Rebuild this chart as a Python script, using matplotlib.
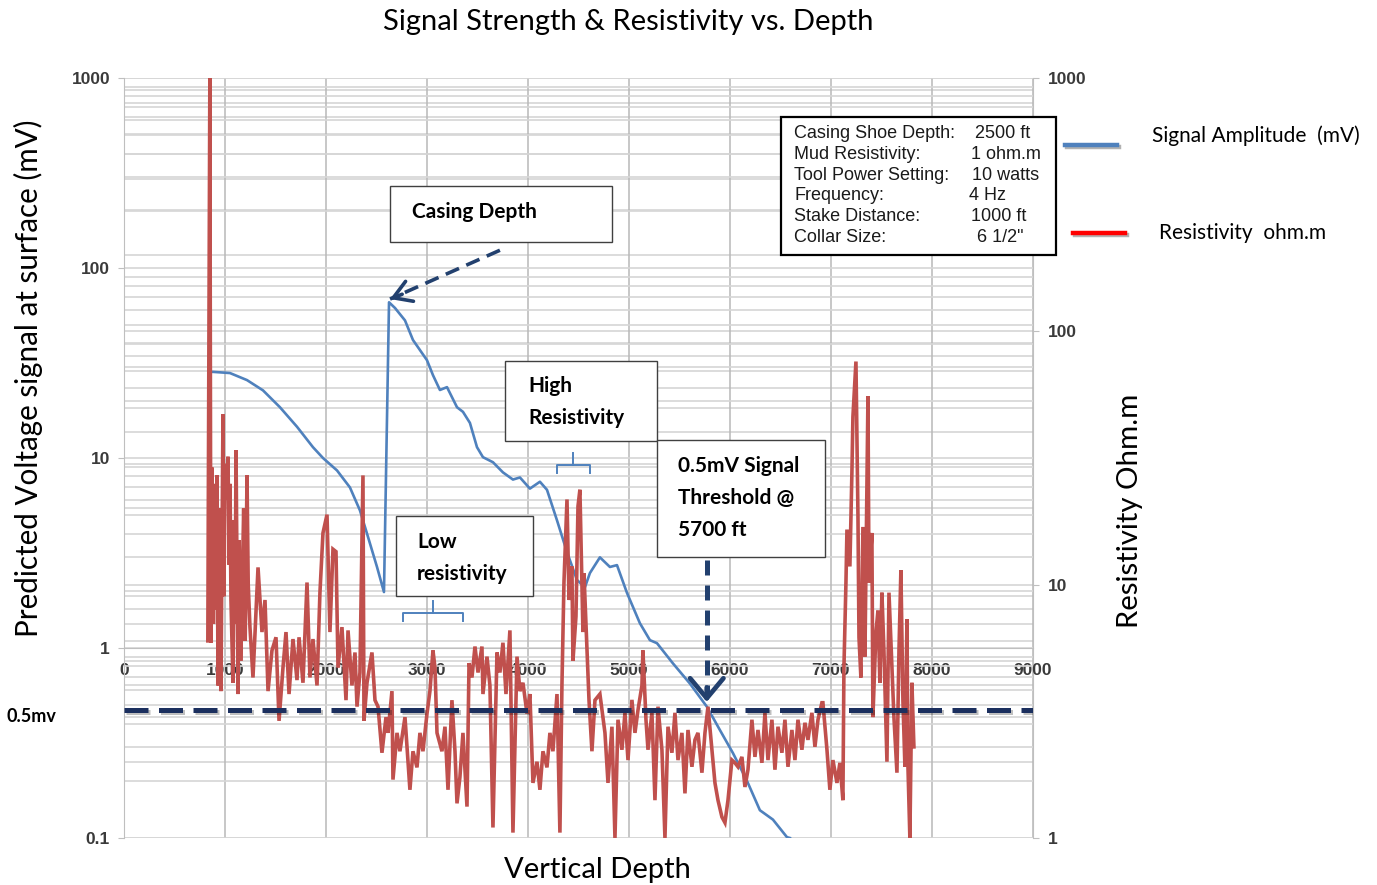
import matplotlib
matplotlib.use("Agg")
import matplotlib.pyplot as plt
import matplotlib.patheffects as pe
from matplotlib.patches import Rectangle
from matplotlib.lines import Line2D
from matplotlib.ticker import LogLocator, NullFormatter

# ---- data ----
sig_depth = [851, 881, 1049, 1218, 1376, 1544, 1713, 1871, 1970, 2109, 2237, 2336, 2406, 2505,
             2574, 2624, 2683, 2782, 2861, 2930, 3000, 3059, 3128, 3198, 3297, 3356, 3425,
             3495, 3554, 3653, 3752, 3851, 3920, 4019, 4118, 4188, 4287, 4386, 4485, 4564,
             4613, 4712, 4811, 4881, 4980, 5108, 5207, 5277, 5435, 5603, 5772, 5900, 6029,
             6168, 6296, 6425, 6564, 6593]
sig_mv = [28.4, 28.4, 28.0, 25.7, 22.7, 18.5, 14.6, 11.4, 10.0, 8.6, 7.0, 5.3, 4.0, 2.67,
          1.97, 66, 61.6, 53, 41.8, 37, 32.7, 27.3, 22.8, 23.6, 18.5, 17.5, 15.3,
          11.4, 10.1, 9.5, 8.4, 7.7, 7.9, 6.9, 7.5, 6.8, 4.7, 3.2, 2.28, 2.09,
          2.48, 3.0, 2.67, 2.73, 1.95, 1.35, 1.1, 1.06, 0.83, 0.65, 0.49, 0.37, 0.28,
          0.20, 0.14, 0.125, 0.101, 0.1]

res_depth = [830, 850, 860, 871, 885, 900, 910, 921, 931, 945, 960, 980, 990, 1000, 1010,
             1030, 1040, 1050, 1059, 1079, 1090, 1100, 1109, 1129, 1140, 1155, 1168, 1185,
             1200, 1218, 1230, 1247, 1277, 1327, 1366, 1396, 1426, 1465, 1505, 1535, 1574,
             1604, 1634, 1673, 1713, 1733, 1772, 1812, 1841, 1871, 1911, 1940, 1970, 2010,
             2039, 2069, 2099, 2119, 2158, 2198, 2218, 2257, 2287, 2307, 2336, 2366, 2376,
             2406, 2455, 2485, 2515, 2554, 2594, 2614, 2653, 2663, 2703, 2732, 2782,
             2831, 2861, 2901, 2930, 2960, 3000, 3029, 3059, 3079, 3099, 3148, 3178, 3208,
             3247, 3277, 3297, 3326, 3356, 3396, 3416, 3445, 3475, 3505, 3544, 3554, 3594,
             3623, 3653, 3693, 3722, 3752, 3782, 3821, 3851, 3891, 3920, 3950, 3990, 4019,
             4049, 4089, 4118, 4148, 4188, 4217, 4247, 4287, 4316, 4336, 4356, 4386, 4406,
             4435, 4445, 4475, 4495, 4514, 4544, 4554, 4584, 4604, 4633, 4663, 4712,
             4762, 4792, 4831, 4861, 4891, 4930, 4960, 4990, 5029, 5059, 5089, 5128, 5138,
             5168, 5188, 5227, 5257, 5287, 5326, 5356, 5386, 5425, 5455, 5485, 5524, 5554,
             5584, 5623, 5653, 5683, 5722, 5752, 5782, 5821, 5851, 5881, 5920, 5950, 5980,
             6019, 6049, 6079, 6118, 6148, 6178, 6217, 6247, 6277, 6316, 6346, 6376, 6415,
             6445, 6475, 6514, 6544, 6574, 6613, 6643, 6673, 6712, 6742, 6772, 6811, 6841,
             6871, 6910, 6920, 6960, 6989, 7019, 7059, 7088, 7118, 7128, 7148, 7158, 7187,
             7207, 7217, 7247, 7267, 7277, 7296, 7316, 7336, 7366, 7376, 7405, 7415, 7445,
             7465, 7484, 7504, 7524, 7554, 7574, 7603, 7623, 7653, 7673, 7692, 7712, 7732,
             7752, 7762, 7781, 7801, 7821]
res_ohm = [6.0, 1000, 5.9, 29, 7, 25, 8, 27, 4.0, 20, 3.8, 47, 9, 30, 21.7,
           32, 12, 25, 8.7, 4.1, 18, 7, 34, 3.7, 15, 5, 8.7, 20,
           6, 27, 10, 6.8, 4.3, 11.7, 6.5, 8.7, 3.8, 5.5, 6.2, 2.9, 4.7,
           6.5, 3.7, 6.1, 4.2, 6.2, 4.1, 10.2, 4.3, 6.1, 4.0, 9.3, 16, 18.9,
           6.5, 13.8, 13.5, 4.7, 6.8, 3.5, 6.6, 4.0, 5.4, 3.3, 4.5, 27, 2.9,
           4.1, 5.4, 3.5, 3.3, 2.17, 3.0, 2.6, 3.8, 1.7, 2.6, 2.2, 3.0,
           1.55, 2.2, 1.9, 2.6, 2.2, 3.1, 3.8, 5.5, 4.7, 2.6, 2.2, 2.75, 1.55,
           3.5, 2.2, 1.37, 1.74, 2.6, 1.33, 4.9, 4.3, 5.7, 4.5, 5.7, 3.7, 5.2,
           4.0, 1.1, 5.4, 4.5, 5.9, 3.7, 6.6, 1.05, 5.2, 3.8, 4.1, 3.1, 3.7,
           1.65, 2.0, 1.55, 2.2, 1.9, 2.6, 2.2, 3.7, 1.05, 4.0, 10.2, 21.7, 8.7,
           11.8, 5.0, 7.5, 20.4, 23.7, 6.5, 11.1, 5.5, 3.5, 2.2, 3.5, 3.7,
           2.6, 1.65, 2.75, 1.0, 2.93, 2.23, 3.12, 2.03, 3.51, 2.6, 3.2, 4.0, 5.5,
           2.93, 2.23, 3.12, 1.41, 3.3, 2.23, 1.0, 2.75, 2.17, 3.12, 2.03, 2.6, 1.5,
           2.67, 1.91, 2.44, 2.6, 1.81, 2.6, 3.3, 2.23, 1.65, 1.41, 1.21, 1.15, 1.41,
           2.03, 1.98, 1.91, 2.09, 1.59, 1.86, 2.93, 2.09, 2.67, 1.98, 3.12, 2.03, 2.93,
           1.86, 2.75, 2.17, 2.93, 1.91, 2.67, 2.03, 2.93, 2.23, 2.85, 2.44, 3.12, 2.29,
           2.93, 3.42, 3.42, 2.23, 1.55, 2.03, 1.65, 1.98, 1.41, 4.7, 10.2, 16.5, 11.8,
           27.7, 46, 76, 18.6, 6.2, 4.3, 16.9, 5.2, 55.5, 10.2, 16, 3.0, 6.5,
           7.9, 4.1, 9.3, 5.5, 2.0, 9.3, 4.7, 3.0, 1.81, 5.5, 11.4, 3.5, 1.91,
           7.3, 1.91, 1.0, 4.1, 2.29]

x_ticks = [0, 1000, 2000, 3000, 4000, 5000, 6000, 7000, 8000, 9000]
x_tick_labels = ["0", "1000", "2000", "3000", "4000", "5000", "6000", "7000", "8000", "9000"]
mv_ticks = [0.1, 1, 10, 100, 1000]
mv_tick_labels = ["0.1", "1", "10", "100", "1000"]
ohm_ticks = [1, 10, 100, 1000]
ohm_tick_labels = ["1", "10", "100", "1000"]

threshold_mv = 0.47
threshold_depth = 5770
low_res_zone = [2760, 3360]
high_res_zone = [4290, 4610]

info_labels = ["Casing Shoe Depth:", "Mud Resistivity:", "Tool Power Setting:",
               "Frequency:", "Stake Distance:", "Collar Size:"]
info_values = ["2500 ft", "1 ohm.m", "10 watts", "4 Hz", "1000 ft", "6 1/2\""]

# ---- styling ----
BLUE = "#4f81bd"
RED = "#c0504d"
NAVY = "#1b2f5e"
ARROW = "#22406e"
GRID = "#d6d6d6"
CAL = ["Lato", "DejaVu Sans"]
ARIAL = ["Liberation Sans", "DejaVu Sans"]

W, H = 1377, 885


def fx(x):
    return x / W


def fy(y):
    return 1 - y / H


fig = plt.figure(figsize=(W / 100, H / 100), dpi=100)
ax = fig.add_axes([fx(124), fy(838), (1033 - 124) / W, (838 - 78) / H])
ax2 = ax.twinx()
ax.set_zorder(2)
ax2.set_zorder(1)
ax.patch.set_visible(False)

ax.set_xlim(0, 9000)
ax.set_yscale("log")
ax.set_ylim(0.1, 1000)
ax2.set_yscale("log")
ax2.set_ylim(1, 1000)

# grids
ax2.yaxis.set_minor_locator(LogLocator(subs=range(2, 10)))
ax.yaxis.set_minor_locator(LogLocator(subs=range(2, 10)))
ax2.grid(which="both", axis="y", color=GRID, lw=1.2)
ax.grid(which="both", axis="y", color=GRID, lw=1.2)
ax.grid(which="major", axis="x", color="#b8b8b8", lw=1.1)
ax.set_axisbelow(True)

# spines
for s in ["top", "right"]:
    ax.spines[s].set_visible(False)
ax.spines["left"].set_color("#bfbfbf")
ax.spines["bottom"].set_position(("data", 1))
ax.spines["bottom"].set_color("#bfbfbf")
for s in ["left", "top", "bottom"]:
    ax2.spines[s].set_visible(False)
ax2.spines["right"].set_color("#bfbfbf")

# ticks
ax.set_xticks(x_ticks, x_tick_labels)
ax.set_yticks(mv_ticks, mv_tick_labels)
ax.yaxis.set_minor_formatter(NullFormatter())
ax2.set_yticks(ohm_ticks, ohm_tick_labels)
ax2.yaxis.set_minor_formatter(NullFormatter())
ax.tick_params(axis="x", length=0, pad=11)
ax.tick_params(axis="y", which="major", length=4, color="#bfbfbf", pad=6)
ax.tick_params(axis="y", which="minor", length=0)
ax2.tick_params(axis="y", which="major", length=4, color="#bfbfbf", pad=7)
ax2.tick_params(axis="y", which="minor", length=0)
for lab in ax.get_xticklabels() + ax.get_yticklabels() + ax2.get_yticklabels():
    lab.set_fontfamily(ARIAL)
    lab.set_fontsize(12.5)
    lab.set_fontweight("bold")
    lab.set_color("#3a3a3a")

# series
ax.plot(sig_depth, sig_mv, color=BLUE, lw=1.9, zorder=3, solid_joinstyle="round")
ax.plot(res_depth, res_ohm, color=RED, lw=2.6, zorder=4, transform=ax2.transData,
        solid_joinstyle="miter")

# 0.5 mV threshold
ax.axhline(threshold_mv, color=NAVY, lw=3.6, ls=(0, (4.8, 2.1)), zorder=6,
           path_effects=[pe.SimpleLineShadow(offset=(1.5, -1.5), alpha=0.25), pe.Normal()])
fig.text(fx(6), fy(717), "0.5mv", fontsize=13, fontweight="bold", family=CAL,
         va="center", ha="left")

# casing depth arrow
peak = sig_mv.index(max(sig_mv))
tip = (sig_depth[peak] + 10, sig_mv[peak] * 1.04)
tail = (3722, 124)
ax.plot([tail[0], tip[0]], [tail[1], tip[1]], color=ARROW, lw=2.6, ls=(0, (4, 2.2)), zorder=7)
ax.annotate("", xy=tip, xytext=(tip[0] + 120, tip[1] * 1.06),
            arrowprops=dict(arrowstyle="->,head_length=0.9,head_width=0.55", color=ARROW,
                            lw=2.6, mutation_scale=14, shrinkA=0, shrinkB=0), zorder=7)

# threshold depth arrow
ax.plot([threshold_depth, threshold_depth], [2.9, 0.56], color=ARROW, lw=3.6,
        ls=(0, (3, 2)), zorder=7)
ax.annotate("", xy=(threshold_depth, 0.52), xytext=(threshold_depth, 0.62),
            arrowprops=dict(arrowstyle="->,head_length=0.9,head_width=0.75", color=ARROW,
                            lw=3.4, mutation_scale=16, shrinkA=0, shrinkB=0), zorder=7)


# braces marking the zones
def brace(zone, y_mid):
    a, b = zone
    m = (a + b) / 2
    k = 1.1
    ax.plot([a, a, b, b], [y_mid / k, y_mid, y_mid, y_mid / k], color=BLUE, lw=1.4, zorder=7)
    ax.plot([m, m], [y_mid, y_mid * k * 1.05], color=BLUE, lw=1.4, zorder=7)


brace(high_res_zone, 9.2)
brace(low_res_zone, 1.53)


# text boxes
def box(x0, y0, x1, y1, lw=1.0, ec="#404040"):
    r = Rectangle((fx(x0), fy(y1)), (x1 - x0) / W, (y1 - y0) / H, transform=fig.transFigure,
                  facecolor="white", edgecolor=ec, lw=lw, zorder=8)
    fig.add_artist(r)


NOTE = dict(fontsize=15, fontweight="bold", family=CAL, va="center", zorder=9)
box(390, 186, 612, 242)
fig.text(fx(412), fy(212), "Casing Depth", **NOTE)
box(505, 361, 657, 441)
fig.text(fx(528), fy(386), "High", **NOTE)
fig.text(fx(528), fy(418), "Resistivity", **NOTE)
box(396, 516, 533, 596)
fig.text(fx(417), fy(542), "Low", **NOTE)
fig.text(fx(417), fy(574), "resistivity", **NOTE)
box(657, 440, 825, 557)
for i, t in enumerate(["0.5mV Signal", "Threshold @", "5700 ft"]):
    fig.text(fx(678), fy(466 + 32 * i), t, **NOTE)

# info box
box(781, 117, 1056, 255, lw=1.6, ec="black")
value_x = [975, 971, 972, 969, 971, 977]
for i, (lab, val) in enumerate(zip(info_labels, info_values)):
    yy = fy(134 + 20.6 * i)
    fig.text(fx(794), yy, lab, fontsize=13, family=ARIAL, va="center", color="#1a1a1a", zorder=9)
    fig.text(fx(value_x[i]), yy, val, fontsize=13, family=ARIAL, va="center", color="#1a1a1a",
             zorder=9)

# legend outside the plot
shadow = [pe.SimpleLineShadow(offset=(1.5, -1.5), alpha=0.3), pe.Normal()]
fig.add_artist(Line2D([fx(1065), fx(1117)], [fy(145), fy(145)], color=BLUE, lw=3.2,
                      transform=fig.transFigure, path_effects=shadow))
fig.text(fx(1152), fy(136), "Signal Amplitude  (mV)", fontsize=15, family=CAL, va="center")
fig.add_artist(Line2D([fx(1073), fx(1125)], [fy(233), fy(233)], color="#ff0000", lw=3.2,
                      transform=fig.transFigure, path_effects=shadow))
fig.text(fx(1159), fy(233), "Resistivity  ohm.m", fontsize=15, family=CAL, va="center")

# titles and axis labels
fig.text(fx(628), fy(22), "Signal Strength & Resistivity vs. Depth", fontsize=21, family=CAL,
         ha="center", va="center")
fig.text(fx(28), fy(378), "Predicted Voltage signal at surface (mV)", fontsize=21.3, family=CAL,
         rotation=90, ha="center", va="center")
fig.text(fx(1130), fy(511), "Resistivity Ohm.m", fontsize=21.2, family=CAL,
         rotation=90, ha="center", va="center")
fig.text(fx(597), fy(870), "Vertical Depth", fontsize=21, family=CAL, ha="center", va="center")

fig.savefig("out.png", dpi=100)
